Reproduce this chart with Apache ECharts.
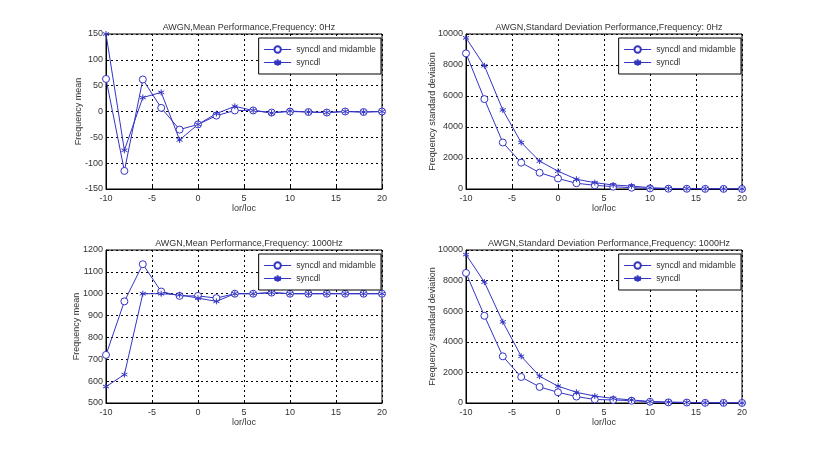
<!DOCTYPE html>
<html>
<head>
<meta charset="utf-8">
<script src="https://cdn.jsdelivr.net/npm/echarts@6/dist/echarts.min.js"></script>
<style>
  html, body { margin: 0; padding: 0; background: #fff; }
  #chart { width: 820px; height: 453px; }
</style>
</head>
<body>
<div id="chart"></div>
<script>
// x positions (Ior/Ioc in dB)
const xVals = [-10, -8, -6, -4, -2, 0, 2, 4, 6, 8, 10, 12, 14, 16, 18, 20]

// AWGN mean, 0Hz
const mean0Mid = [63, -115, 62, 7, -35, -25, -8, 2, 2, -2, 0, -1, -2, 0, -1, 0]
const mean0Sync = [150, -75, 27, 37, -55, -25, -4, 10, 2, -3, 1, -1, -2, 0, -1, 0]

// AWGN standard deviation, 0Hz
const std0Mid = [8750, 5800, 3000, 1700, 1050, 680, 370, 240, 150, 85, 40, 20, 15, 10, 8, 5]
const std0Sync = [9750, 7950, 5100, 3000, 1800, 1150, 630, 410, 260, 190, 85, 40, 30, 20, 12, 8]

// AWGN mean, 1000Hz
const mean1kMid = [720, 965, 1135, 1010, 990, 990, 980, 1000, 1000, 1005, 1000, 1000, 1000, 1000, 1000, 1000]
const mean1kSync = [575, 630, 1000, 1000, 995, 980, 965, 1000, 1000, 1005, 1000, 1000, 1000, 1000, 1000, 1000]

// AWGN standard deviation, 1000Hz
const std1kMid = [8500, 5700, 3050, 1700, 1050, 700, 420, 230, 200, 150, 80, 40, 30, 10, 10, 5]
const std1kSync = [9700, 7900, 5300, 3050, 1750, 1100, 700, 450, 300, 200, 100, 60, 40, 20, 10, 5]

const titles = [
  'AWGN,Mean Performance,Frequency: 0Hz',
  'AWGN,Standard Deviation Performance,Frequency: 0Hz',
  'AWGN,Mean Performance,Frequency: 1000Hz',
  'AWGN,Standard Deviation Performance,Frequency: 1000Hz'
]
const yNames = ['Frequency mean', 'Frequency standard deviation', 'Frequency mean', 'Frequency standard deviation']
const yRanges = [[-150, 150, 50], [0, 10000, 2000], [500, 1200, 100], [0, 10000, 2000]]
const yNameGaps = [23, 29, 25, 29]
const pairs = [[mean0Mid, mean0Sync], [std0Mid, std0Sync], [mean1kMid, mean1kSync], [std1kMid, std1kSync]]
const legendNames = ['syncdl and midamble', 'syncdl']

const FONT = 'Liberation Sans'
const BLUE = '#3434c4'
const TXT = '#333'
const STAR = 'path://M0,-5L0,5M-4.33,-2.5L4.33,2.5M-4.33,2.5L4.33,-2.5'

// plot boxes in pixels
const boxes = [
  { left: 106, top: 34, width: 276, height: 155 },
  { left: 466, top: 34, width: 276, height: 155 },
  { left: 106, top: 250, width: 276, height: 153 },
  { left: 466, top: 250, width: 276, height: 153 }
]

const chart = echarts.init(document.getElementById('chart'))

const grid = boxes.map(b => ({
  left: b.left, top: b.top, width: b.width, height: b.height,
  show: true, borderColor: '#000', borderWidth: 1, backgroundColor: '#fff'
}))

const gridLine = { show: true, lineStyle: { color: '#000', type: [2, 3], width: 1 } }
const labelStyle = { color: TXT, fontFamily: FONT, fontSize: 9, formatter: v => String(v) }

const xAxis = boxes.map((b, i) => ({
  type: 'value', gridIndex: i, min: -10, max: 20, interval: 5,
  name: 'lor/loc', nameLocation: 'middle', nameGap: 15, nameMoveOverlap: false,
  nameTextStyle: { color: TXT, fontFamily: FONT, fontSize: 9 },
  axisLine: { show: true, onZero: false, lineStyle: { color: '#000' } },
  axisTick: { show: true, inside: true, length: 3, lineStyle: { color: '#000' } },
  axisLabel: Object.assign({ margin: 5 }, labelStyle),
  splitLine: gridLine
}))

const yAxis = boxes.map((b, i) => ({
  type: 'value', gridIndex: i,
  min: yRanges[i][0], max: yRanges[i][1], interval: yRanges[i][2],
  name: yNames[i], nameLocation: 'middle', nameGap: yNameGaps[i],
  nameMoveOverlap: false,
  nameTextStyle: { color: TXT, fontFamily: FONT, fontSize: 9 },
  axisLine: { show: true, onZero: false, lineStyle: { color: '#000' } },
  axisTick: { show: true, inside: true, length: 3, lineStyle: { color: '#000' } },
  axisLabel: Object.assign({ margin: 3 }, labelStyle),
  splitLine: gridLine
}))

const series = []
pairs.forEach((p, i) => {
  series.push({
    name: legendNames[0], type: 'line', xAxisIndex: i, yAxisIndex: i,
    data: xVals.map((x, k) => [x, p[0][k]]),
    symbol: 'circle', symbolSize: 7,
    lineStyle: { color: BLUE, width: 1 },
    itemStyle: { color: '#fff', borderColor: BLUE, borderWidth: 1 },
    animation: false
  })
  series.push({
    name: legendNames[1], type: 'line', xAxisIndex: i, yAxisIndex: i,
    data: xVals.map((x, k) => [x, p[1][k]]),
    symbol: STAR, symbolSize: 6,
    lineStyle: { color: BLUE, width: 1 },
    itemStyle: { color: BLUE, borderColor: BLUE, borderWidth: 1 },
    animation: false
  })
})

const title = boxes.map((b, i) => ({
  text: titles[i],
  left: b.left + b.width / 2, top: b.top - 16, textAlign: 'center',
  textStyle: { color: TXT, fontFamily: FONT, fontSize: 9, fontWeight: 'normal' }
}))

const legend = boxes.map((b, i) => ({
  data: legendNames,
  orient: 'vertical',
  right: 820 - (b.left + b.width) + 1, top: b.top + 4,
  backgroundColor: '#fff', borderColor: '#000', borderWidth: 1, borderRadius: 0,
  padding: [7, 5, 7, 5], itemGap: 4, itemWidth: 27, itemHeight: 8,
  textStyle: { color: TXT, fontFamily: FONT, fontSize: 8.5 },
  lineStyle: { width: 1 },
  selectedMode: false
}))

chart.setOption({
  backgroundColor: '#fff',
  animation: false,
  title, legend, grid, xAxis, yAxis, series
})
</script>
</body>
</html>
